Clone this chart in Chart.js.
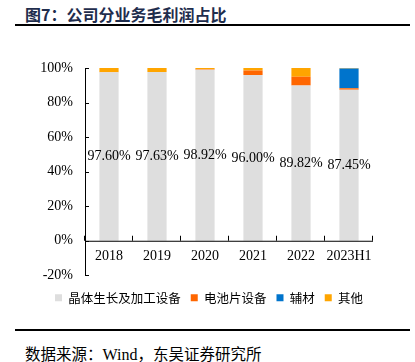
<!DOCTYPE html>
<html>
<head>
<meta charset="utf-8">
<script src="https://cdn.jsdelivr.net/npm/chart.js@4.4.0/dist/chart.umd.min.js"></script>
<style>
  body { margin: 0; width: 415px; height: 362px; background: #fff; position: relative; overflow: hidden; }
  #title { position: absolute; left: 25px; top: 2px; font: bold 16px "Noto Sans CJK SC"; color: #1f2d4d; }
  #topLine { position: absolute; left: 15px; top: 24px; width: 395px; height: 2px; background: #000; }
  #wrap { position: absolute; left: 0; top: 30px; width: 415px; height: 290px; }
  #bottomLine { position: absolute; left: 15px; top: 329px; width: 395px; height: 1.5px; background: #000; }
  #source { position: absolute; left: 25px; top: 342px; font: 15.5px "Noto Sans CJK SC", "Liberation Serif"; color: #000; }
</style>
</head>
<body>
<div id="title">图7：公司分业务毛利润占比</div>
<div id="topLine"></div>
<div id="wrap"><canvas id="gpChart"></canvas></div>
<div id="bottomLine"></div>
<div id="source">数据来源：<span style="font-family:'Liberation Serif';font-size:16px">Wind</span>，东吴证券研究所</div>
<script>
// số liệu
const years = ['2018', '2019', '2020', '2021', '2022', '2023H1'];
const crystalEquip = [97.60, 97.63, 98.92, 96.00, 89.82, 87.45];
const cellEquip = [0.05, 0.05, 0.40, 2.50, 5.06, 0.90];
const auxMaterials = [0, 0, 0, 0, 0, 11.30];
const others = [2.35, 2.32, 0.68, 1.50, 5.12, 0.35];
const yTicks = [-20, 0, 20, 40, 60, 80, 100];

const serif = '"Liberation Serif", "Times New Roman", serif';

// vẽ trục X tại mức 0%, vạch chia hướng vào trong, nhãn giá trị
const axisPlugin = {
    id: 'axisPlugin',
    afterDatasetsDraw(chart) {
        const ctx = chart.ctx;
        const x = chart.scales.x, y = chart.scales.y;
        const area = chart.chartArea;
        const y0 = y.getPixelForValue(0);
        ctx.save();
        ctx.strokeStyle = '#000';
        ctx.lineWidth = 1;
        // trục X
        ctx.beginPath();
        ctx.moveTo(area.left, y0 + 0.5);
        ctx.lineTo(area.right, y0 + 0.5);
        ctx.stroke();
        // vạch chia trục X (ranh giới giữa các nhóm)
        for (let i = 0; i <= years.length; i++) {
            let px;
            if (i === 0) px = area.left;
            else if (i === years.length) px = area.right;
            else px = (x.getPixelForValue(i - 1) + x.getPixelForValue(i)) / 2;
            ctx.beginPath();
            ctx.moveTo(Math.round(px) - 0.5, y0);
            ctx.lineTo(Math.round(px) - 0.5, y0 - 5);
            ctx.stroke();
        }
        // vạch chia trục Y hướng vào trong
        yTicks.forEach(v => {
            const py = Math.round(y.getPixelForValue(v)) + 0.5;
            ctx.beginPath();
            ctx.moveTo(area.left, py);
            ctx.lineTo(area.left + 4, py);
            ctx.stroke();
        });
        // nhãn trục X
        ctx.fillStyle = '#000';
        ctx.font = '14px ' + serif;
        ctx.textAlign = 'center';
        ctx.textBaseline = 'middle';
        years.forEach((lab, i) => {
            ctx.fillText(lab, x.getPixelForValue(i), y0 + 16);
        });
        // nhãn giá trị ở giữa cột xám
        const meta = chart.getDatasetMeta(0);
        meta.data.forEach((bar, i) => {
            const cy = (bar.y + bar.base) / 2;
            ctx.fillText(crystalEquip[i].toFixed(2) + '%', bar.x, cy);
        });
        ctx.restore();
    }
};

const ctx = document.getElementById('gpChart').getContext('2d');
new Chart(ctx, {
    type: 'bar',
    data: {
        labels: years,
        datasets: [
            { label: '晶体生长及加工设备', data: crystalEquip, backgroundColor: '#dedede' },
            { label: '电池片设备', data: cellEquip, backgroundColor: '#ff6600' },
            { label: '辅材', data: auxMaterials, backgroundColor: '#0074cc' },
            { label: '其他', data: others, backgroundColor: '#ffa500' }
        ]
    },
    options: {
        responsive: true,
        maintainAspectRatio: false,
        animation: false,
        layout: { padding: { top: 38, left: 0, right: 42, bottom: 6 } },
        datasets: { bar: { barPercentage: 0.4, categoryPercentage: 1.0 } },
        scales: {
            x: { stacked: true, display: false },
            y: {
                stacked: true,
                min: -20, max: 100,
                afterFit(scale) { scale.width = 85; },
                border: { display: true, color: '#000', width: 1 },
                grid: { display: false, drawTicks: false },
                ticks: {
                    stepSize: 20,
                    padding: 12,
                    color: '#000',
                    font: { family: serif, size: 14 },
                    callback: v => v + '%'
                }
            }
        },
        plugins: {
            legend: {
                display: true,
                position: 'bottom',
                align: 'end',
                // tiêu đề rỗng chỉ để tạo khoảng trống phía trên chú thích
                title: { display: true, text: '', font: { size: 1 }, padding: { top: 5, bottom: 0 } },
                labels: {
                    boxWidth: 7, boxHeight: 7,
                    padding: 10,
                    color: '#000',
                    font: { family: '"Noto Sans CJK SC"', size: 12.5 }
                }
            },
            tooltip: { enabled: false }
        }
    },
    plugins: [axisPlugin]
});
</script>
</body>
</html>
